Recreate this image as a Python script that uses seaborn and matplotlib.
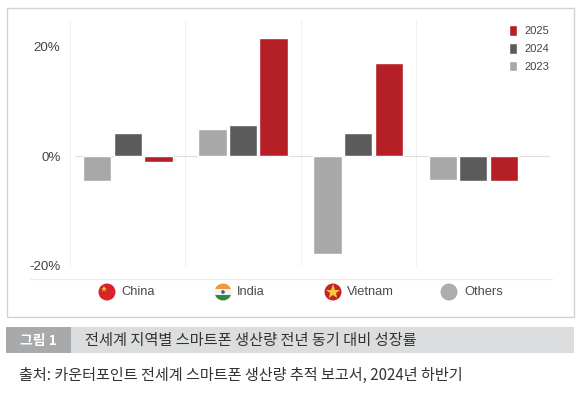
import matplotlib
matplotlib.use("Agg")
import matplotlib.pyplot as plt
from matplotlib.patches import Circle, Rectangle
import pandas as pd
import seaborn as sns

regions = ["China", "India", "Vietnam", "Others"]
years = ["2023", "2024", "2025"]
values_2023 = [-4.6, 4.9, -17.9, -4.4]
values_2024 = [4.3, 5.8, 4.3, -4.5]
values_2025 = [-1.1, 21.7, 17.1, -4.5]
colors = ["#a9a8a8", "#5c5b5b", "#b51f26"]
ytick_vals = [-20, 0, 20]
ytick_labels = ["-20%", "0%", "20%"]
caption = "전세계 지역별 스마트폰 생산량 전년 동기 대비 성장률"
source = "출처: 카운터포인트 전세계 스마트폰 생산량 추적 보고서, 2024년 하반기"
fig_label = "그림 1"

sns.set_theme(style="white")
plt.rcParams["font.family"] = ["Liberation Sans", "Noto Sans CJK KR", "DejaVu Sans"]

W, H = 583, 396
fig = plt.figure(figsize=(W / 100, H / 100), dpi=100, facecolor="white")

# overlay in pixel space
ov = fig.add_axes([0, 0, 1, 1], zorder=0)
ov.set_xlim(0, W)
ov.set_ylim(H, 0)
ov.axis("off")
ov.add_patch(Rectangle((6.5, 7.5), 567, 309.5, fc="white", ec="#d2d2d2", lw=1))
ov.add_patch(Rectangle((6, 327), 568, 26, fc="#dcddde", ec="none"))
ov.add_patch(Rectangle((6, 327), 65, 26, fc="#a8a9ab", ec="none"))
ov.text(38, 340.5, fig_label, color="white", fontsize=10, fontweight="bold",
        ha="center", va="center", family=["Noto Sans CJK KR"])
ov.text(85, 340.5, caption, color="#333333", fontsize=10.95, ha="left", va="center",
        family=["Noto Sans CJK KR"])
ov.text(19, 375, source, color="#333333", fontsize=10.9, ha="left", va="center",
        family=["Noto Sans CJK KR"])
ov.plot([30, 552], [278.5, 278.5], color="#ececec", lw=0.9)

# chart axes
top, bottom, left, right = 20, 266, 70.3, 530.8
zero_y, px_per = 156.3, 5.47
ax = fig.add_axes([left / W, 1 - bottom / H, (right - left) / W, (bottom - top) / H],
                  zorder=1)
ax.patch.set_alpha(0)
df = pd.DataFrame({
    "region": regions * 3,
    "year": [y for y in years for _ in regions],
    "value": values_2023 + values_2024 + values_2025,
})
sns.barplot(data=df, x="region", y="value", hue="year", order=regions, hue_order=years,
            palette=colors, width=0.797, gap=0.075, saturation=1, ax=ax, errorbar=None)
ax.set_xlim(-0.5, 3.5)
ax.set_ylim((zero_y - bottom) / px_per, (zero_y - top) / px_per)
ax.set_xlabel("")
ax.set_ylabel("")
sns.despine(ax=ax, left=True, bottom=True)
ax.set_yticks(ytick_vals)
ax.set_yticklabels(ytick_labels, color="#444444", fontsize=9.6)
ax.tick_params(axis="y", length=0, pad=7)
ax.set_xticks([])
for x in [-0.5, 0.5, 1.5, 2.5, 3.5]:
    ax.axvline(x, color="#f1f1f1", lw=0.8, zorder=0)
ax.axhline(0, xmin=0.01, xmax=1.04, color="#e6dcdc", lw=0.8, zorder=0, clip_on=False)

# legend, newest year first
handles, labels = ax.get_legend_handles_labels()
ax.legend(handles[::-1], labels[::-1], loc="upper left",
          bbox_to_anchor=((509 - left) / (right - left), 1 - (25.5 - top) / (bottom - top)),
          frameon=False, fontsize=8, labelcolor="#444444", handlelength=0.75,
          handleheight=1.05, handletextpad=0.6, labelspacing=0.62,
          borderpad=0, borderaxespad=0)

# region icons and labels
cy = 292
for name, cx, tx in zip(regions, [107, 223, 333, 449], [121, 237, 347, 464]):
    ov.text(tx, cy, name, color="#4a4a4a", fontsize=9.3,
            ha="left", va="center")
    clip = Circle((cx, cy), 8.5, transform=ov.transData)
    if name == "India":
        for y0, c in [(cy - 9, "#f09a36"), (cy - 3, "#f4f2ee"), (cy + 3, "#2f8a3c")]:
            r = Rectangle((cx - 9, y0), 18, 6, fc=c, ec="none")
            ov.add_patch(r)
            r.set_clip_path(clip)
        ov.add_patch(Circle((cx, cy), 1.8, fc="#3b5a9a", ec="none"))
    else:
        fc = {"China": "#d9232a", "Vietnam": "#c9202a", "Others": "#adadad"}[name]
        ov.add_patch(Circle((cx, cy), 8.5, fc=fc, ec="none"))
        if name == "China":
            ov.plot([cx - 3.5], [cy - 3.2], marker="*", ms=5, color="#f5c93a", mew=0)
        if name == "Vietnam":
            ov.plot([cx], [cy], marker="*", ms=11, color="#f5c93a", mew=0)

fig.savefig("out.png", dpi=100)
